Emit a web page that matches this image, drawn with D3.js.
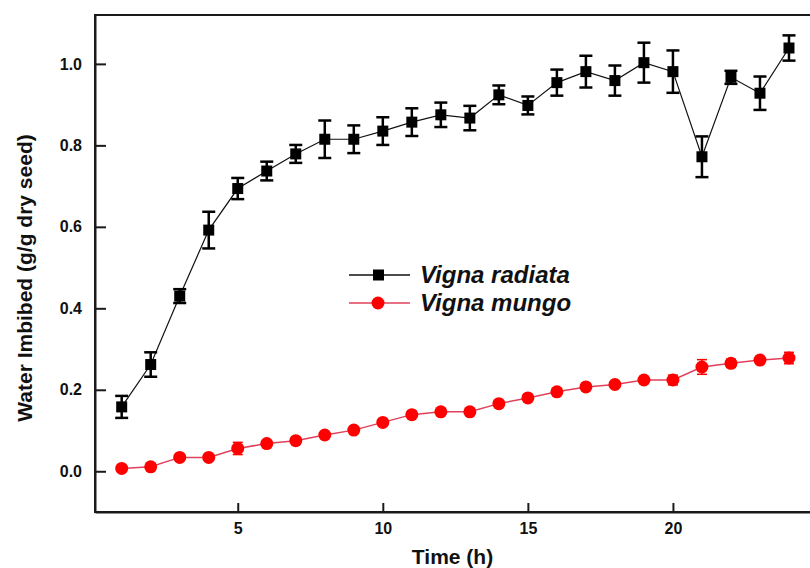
<!DOCTYPE html>
<html>
<head>
<meta charset="utf-8">
<script src="https://cdn.jsdelivr.net/npm/d3@7"></script>
<style>
	body { margin: 0; background: #fff; }
	svg { display: block; font-family: Arial, "Liberation Sans", sans-serif; }
</style>
</head>
<body>
<svg id="chart"></svg>
<script>
// hours of imbibition
const hours = d3.range(1, 25);

// Vigna radiata: mean and error
const radiata = [0.158, 0.262, 0.430, 0.592, 0.694, 0.737, 0.779, 0.815, 0.815, 0.835, 0.857, 0.875,
	0.867, 0.924, 0.898, 0.954, 0.981, 0.959, 1.003, 0.981, 0.772, 0.967, 0.928, 1.039];
const radiataErr = [0.027, 0.030, 0.017, 0.045, 0.026, 0.023, 0.022, 0.046, 0.034, 0.034, 0.034, 0.030,
	0.030, 0.023, 0.022, 0.032, 0.039, 0.037, 0.049, 0.052, 0.050, 0.016, 0.041, 0.031];

// Vigna mungo: mean and error
const mungo = [0.007, 0.011, 0.034, 0.034, 0.056, 0.068, 0.075, 0.089, 0.101, 0.120, 0.139, 0.146,
	0.146, 0.166, 0.180, 0.195, 0.207, 0.213, 0.224, 0.224, 0.256, 0.265, 0.273, 0.278];
const mungoErr = [0.004, 0.004, 0.005, 0.005, 0.015, 0.005, 0.005, 0.005, 0.005, 0.005, 0.005, 0.005,
	0.005, 0.005, 0.005, 0.005, 0.005, 0.005, 0.005, 0.012, 0.018, 0.010, 0.006, 0.014];

const xTicks = [5, 10, 15, 20];
const yTicks = [0, 0.2, 0.4, 0.6, 0.8, 1.0];

const W = 810, H = 568;
const margin = { top: 15, left: 95, right: -8, bottom: 56 };

const svg = d3.select('#chart').attr('width', W).attr('height', H);

const x = d3.scaleLinear().domain([0.08, 25]).range([margin.left, W - margin.right]);
const y = d3.scaleLinear().domain([-0.1, 1.12]).range([H - margin.bottom, margin.top]);

const series = [
	{ name: 'Vigna radiata', values: radiata, err: radiataErr, color: '#000', line: '#111', shape: 'square' },
	{ name: 'Vigna mungo', values: mungo, err: mungoErr, color: '#ff0000', line: '#e0405a', shape: 'circle' }
];

// frame
svg.append('rect')
	.attr('x', x.range()[0]).attr('y', y.range()[1])
	.attr('width', x.range()[1] - x.range()[0])
	.attr('height', y.range()[0] - y.range()[1])
	.attr('fill', 'none').attr('stroke', '#1a1a1a').attr('stroke-width', 2);

// axes
const yAxis = svg.append('g')
	.attr('transform', `translate(${x.range()[0]},0)`)
	.call(d3.axisLeft(y).tickValues(yTicks).tickFormat(d3.format('.1f')).tickSizeInner(-11).tickSizeOuter(0).tickPadding(13));
const xAxis = svg.append('g')
	.attr('transform', `translate(0,${y.range()[0]})`)
	.call(d3.axisBottom(x).tickValues(xTicks).tickFormat(d3.format('d')).tickSizeInner(-9).tickSizeOuter(0).tickPadding(11));

[xAxis, yAxis].forEach(g => {
	g.select('.domain').attr('stroke', '#1a1a1a').attr('stroke-width', 2);
	g.selectAll('.tick line').attr('stroke', '#1a1a1a').attr('stroke-width', 2);
	g.selectAll('.tick text').attr('fill', '#111').attr('font-size', 16).attr('font-weight', 'bold');
});

svg.append('text')
	.attr('x', (x.range()[0] + x.range()[1]) / 2 - 4).attr('y', 564)
	.attr('text-anchor', 'middle')
	.attr('font-size', 21).attr('font-weight', 'bold').attr('fill', '#111')
	.text('Time (h)');

svg.append('text')
	.attr('transform', 'translate(32,278) rotate(-90)')
	.attr('text-anchor', 'middle')
	.attr('font-size', 21).attr('font-weight', 'bold').attr('fill', '#111')
	.text('Water Imbibed (g/g dry seed)');

const line = d3.line().x((d, i) => x(hours[i])).y(d => y(d));

series.forEach(s => {
	const g = svg.append('g');
	g.append('path').datum(s.values)
		.attr('d', line)
		.attr('fill', 'none')
		.attr('stroke', s.line)
		.attr('stroke-width', s.shape === 'circle' ? 1.5 : 1.2);

	const bars = g.selectAll('g.err').data(s.values).enter().append('g').attr('class', 'err')
		.attr('stroke', s.color).attr('stroke-width', s.shape === 'circle' ? 1.5 : 2.5);
	const cap = s.shape === 'circle' ? 5 : 6.5;
	bars.append('line')
		.attr('x1', (d, i) => x(hours[i])).attr('x2', (d, i) => x(hours[i]))
		.attr('y1', (d, i) => y(d + s.err[i])).attr('y2', (d, i) => y(d - s.err[i]));
	bars.append('line')
		.attr('x1', (d, i) => x(hours[i]) - cap).attr('x2', (d, i) => x(hours[i]) + cap)
		.attr('y1', (d, i) => y(d + s.err[i])).attr('y2', (d, i) => y(d + s.err[i]));
	bars.append('line')
		.attr('x1', (d, i) => x(hours[i]) - cap).attr('x2', (d, i) => x(hours[i]) + cap)
		.attr('y1', (d, i) => y(d - s.err[i])).attr('y2', (d, i) => y(d - s.err[i]));

	if (s.shape === 'square') {
		g.selectAll('rect.pt').data(s.values).enter().append('rect').attr('class', 'pt')
			.attr('x', (d, i) => x(hours[i]) - 5.5).attr('y', d => y(d) - 5.5)
			.attr('width', 11).attr('height', 11).attr('fill', s.color);
	} else {
		g.selectAll('circle.pt').data(s.values).enter().append('circle').attr('class', 'pt')
			.attr('cx', (d, i) => x(hours[i])).attr('cy', d => y(d))
			.attr('r', 6.5).attr('fill', s.color);
	}
});

// legend
const legend = svg.append('g');
series.forEach((s, i) => {
	const ly = 275 + i * 28;
	legend.append('line')
		.attr('x1', 349).attr('x2', 410).attr('y1', ly).attr('y2', ly)
		.attr('stroke', s.line).attr('stroke-width', 1.5);
	if (s.shape === 'square') {
		legend.append('rect').attr('x', 373).attr('y', ly - 5.5).attr('width', 11).attr('height', 11).attr('fill', s.color);
	} else {
		legend.append('circle').attr('cx', 378).attr('cy', ly).attr('r', 6.5).attr('fill', s.color);
	}
	legend.append('text')
		.attr('x', 420).attr('y', ly + 8)
		.attr('font-size', 24).attr('font-weight', 'bold').attr('font-style', 'italic').attr('fill', '#111')
		.text(s.name);
});
</script>
</body>
</html>
